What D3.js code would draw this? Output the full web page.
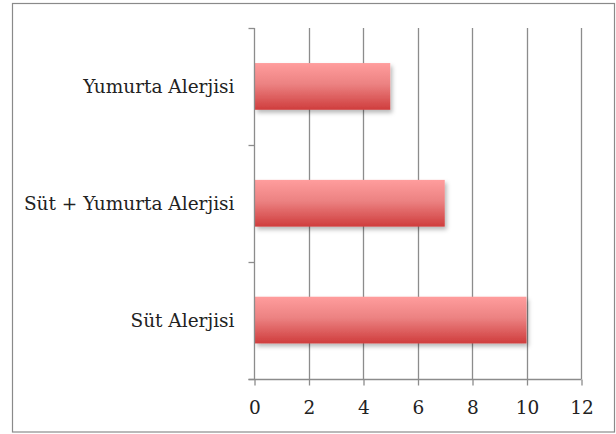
<!DOCTYPE html>
<html>
<head>
<meta charset="utf-8">
<script src="https://cdn.jsdelivr.net/npm/d3@7"></script>
<style>
  html, body { margin: 0; padding: 0; background: #fff; }
  svg { display: block; }
  text { font-family: "DejaVu Serif", "Liberation Serif", serif; fill: #222; }
</style>
</head>
<body>
<svg id="chart" width="616" height="434"></svg>
<script>
// Allergy types and counts
const categories = ["Yumurta Alerjisi", "Süt + Yumurta Alerjisi", "Süt Alerjisi"];
const counts = [5, 7, 10];
const xTicks = [0, 2, 4, 6, 8, 10, 12];

const svg = d3.select("#chart");
const W = 616, H = 434;
const margin = { left: 254, right: 35, top: 28, bottom: 55 };

// outer frame
svg.append("rect")
  .attr("x", 12.5).attr("y", 3.5)
  .attr("width", 602).attr("height", 428.5)
  .attr("fill", "#fff").attr("stroke", "#8a8a8a").attr("stroke-width", 1.2);

const defs = svg.append("defs");
const grad = defs.append("linearGradient")
  .attr("id", "barGrad").attr("x1", 0).attr("y1", 0).attr("x2", 0).attr("y2", 1);
grad.append("stop").attr("offset", "0%").attr("stop-color", "#ff9d9d");
grad.append("stop").attr("offset", "45%").attr("stop-color", "#ec8282");
grad.append("stop").attr("offset", "100%").attr("stop-color", "#cf3d3d");

const shadow = defs.append("filter").attr("id", "shadow")
  .attr("x", "-5%").attr("y", "-20%").attr("width", "115%").attr("height", "160%");
shadow.append("feDropShadow")
  .attr("dx", 2).attr("dy", 3).attr("stdDeviation", 2.2)
  .attr("flood-color", "#000").attr("flood-opacity", 0.28);

const x = d3.scaleLinear().domain([0, 12]).range([margin.left, W - margin.right]);
const y = d3.scaleBand().domain(categories)
  .range([margin.top, H - margin.bottom - 0.5 ])
  .paddingInner(0.6).paddingOuter(0.3);

const y0 = margin.top, y1 = H - margin.bottom;

// vertical gridlines
svg.append("g")
  .selectAll("line")
  .data(xTicks.slice(1))
  .join("line")
  .attr("x1", d => Math.round(x(d)) + 0.5).attr("x2", d => Math.round(x(d)) + 0.5)
  .attr("y1", y0).attr("y2", y1)
  .attr("stroke", "#8c8c8c").attr("stroke-width", 1.3);

// bars
svg.append("g")
  .selectAll("rect")
  .data(categories.map((c, i) => ({ c, v: counts[i] })))
  .join("rect")
  .attr("x", x(0) + 1)
  .attr("y", d => y(d.c))
  .attr("width", d => x(d.v) - x(0) - 1)
  .attr("height", y.bandwidth())
  .attr("fill", "url(#barGrad)")
  .attr("filter", "url(#shadow)");

// x axis
const xAxis = d3.axisBottom(x).tickValues(xTicks).tickSize(6).tickSizeOuter(0).tickPadding(15);
const gx = svg.append("g")
  .attr("transform", `translate(0.5,${y1 + 0.5})`)
  .call(xAxis);
gx.select(".domain").attr("d", `M${margin.left - 6},0H${x(12)}`);
gx.selectAll(".domain, .tick line").attr("stroke", "#8c8c8c").attr("stroke-width", 1.3);
gx.selectAll("text").attr("font-size", 18.5).attr("fill", "#222");

// y axis: category boundary ticks plus labels
const gy = svg.append("g").attr("transform", `translate(${margin.left + 0.5},0)`);
gy.append("line")
  .attr("x1", 0).attr("x2", 0).attr("y1", y0).attr("y2", y1)
  .attr("stroke", "#8c8c8c").attr("stroke-width", 1.3);
const bounds = d3.range(categories.length + 1).map(i => y0 + i * (y1 - y0) / categories.length);
gy.selectAll("line.tk")
  .data(bounds)
  .join("line").attr("class", "tk")
  .attr("x1", -6).attr("x2", 0)
  .attr("y1", d => Math.round(d) + 0.5).attr("y2", d => Math.round(d) + 0.5)
  .attr("stroke", "#8c8c8c").attr("stroke-width", 1.3);
gy.selectAll("text")
  .data(categories)
  .join("text")
  .attr("x", -20)
  .attr("y", d => y(d) + y.bandwidth() / 2)
  .attr("dy", "0.35em")
  .attr("text-anchor", "end")
  .attr("font-size", 18.5)
  .text(d => d);
</script>
</body>
</html>
